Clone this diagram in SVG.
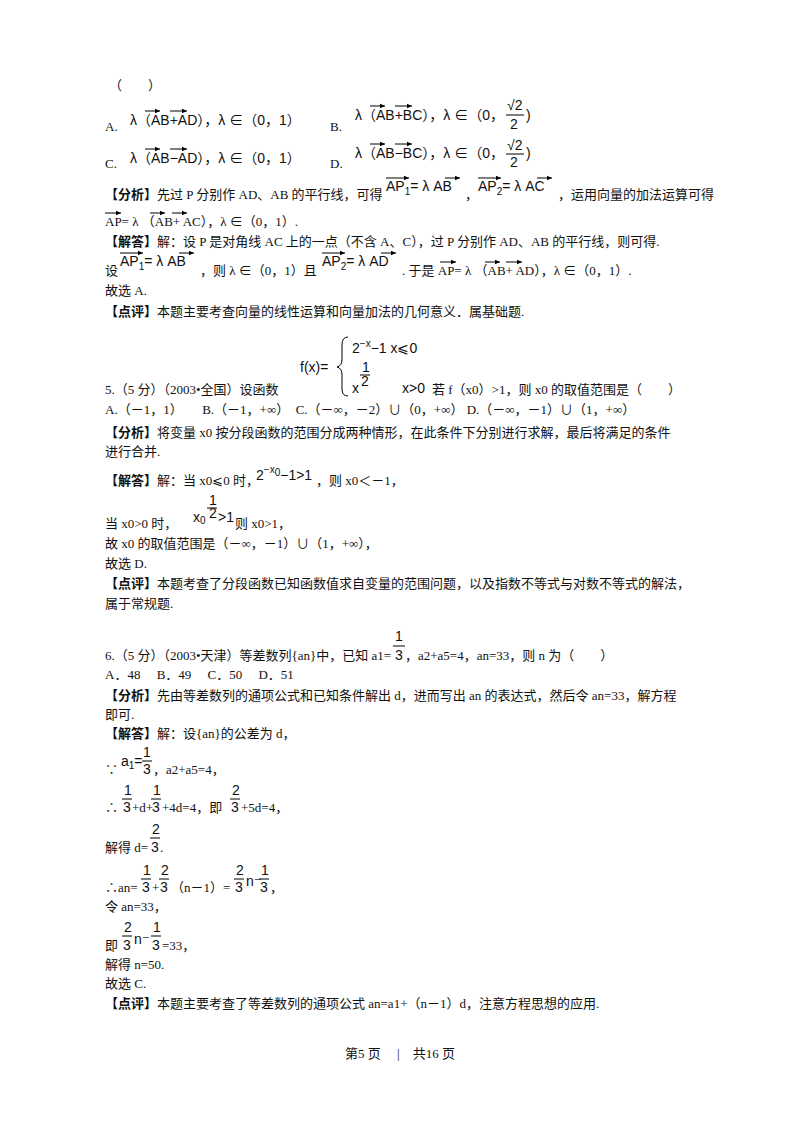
<svg xmlns="http://www.w3.org/2000/svg" width="800" height="1132" viewBox="0 0 800 1132">
<defs>
<marker id="ar" markerWidth="6" markerHeight="6" refX="5" refY="3" orient="auto" markerUnits="userSpaceOnUse"><path d="M0,0.8 L5,3 L0,5.2 Z" fill="#000"/></marker>
<style>
text{font-family:"Liberation Serif","Noto Sans CJK SC",serif;font-size:13px;fill:#111}
.m{font-family:"Liberation Sans","Noto Sans CJK SC",sans-serif;font-size:14px}
.s{font-size:10px}
.v{stroke:#000;stroke-width:1;marker-end:url(#ar)}
.f{stroke:#000;stroke-width:1}
.b{font-family:"Noto Sans CJK SC",sans-serif;font-weight:bold}
</style>
</defs>
<rect width="800" height="1132" fill="#fff"/>
<text x="109" y="90">（　　）</text>
<text x="105" y="131">A.</text>
<text class="m" x="130" y="125">λ（AB+AD），λ ∈（0，1）</text>
<line class="v" x1="145" y1="111" x2="160" y2="111"/><line class="v" x1="170" y1="111" x2="187" y2="111"/>
<text x="330" y="131">B.</text>
<text class="m" x="355" y="120">λ（AB+BC），λ ∈（0，</text>
<line class="v" x1="370" y1="106" x2="385" y2="106"/><line class="v" x1="395" y1="106" x2="412" y2="106"/>
<text class="m" x="507" y="110">√2</text><line class="f" x1="506" y1="115" x2="524" y2="115"/><text class="m" x="510" y="129">2</text><text class="m" x="526" y="120">)</text>
<text x="105" y="168">C.</text>
<text class="m" x="130" y="163">λ（AB−AD），λ ∈（0，1）</text>
<line class="v" x1="145" y1="149" x2="160" y2="149"/><line class="v" x1="170" y1="149" x2="187" y2="149"/>
<text x="330" y="168">D.</text>
<text class="m" x="355" y="158">λ（AB−BC），λ ∈（0，</text>
<line class="v" x1="370" y1="144" x2="385" y2="144"/><line class="v" x1="395" y1="144" x2="412" y2="144"/>
<text class="m" x="507" y="150">√2</text><line class="f" x1="506" y1="154" x2="524" y2="154"/><text class="m" x="510" y="167">2</text><text class="m" x="526" y="158">)</text>

<text x="105" y="199"><tspan class="b">【分析】</tspan>先过 P 分别作 AD、AB 的平行线，可得</text>
<text class="m" x="386" y="191">AP<tspan class="s" dy="4">1</tspan><tspan dy="-4">= λ AB</tspan></text>
<line class="v" x1="386" y1="178" x2="409" y2="178"/><line class="v" x1="445" y1="178" x2="460" y2="178"/>
<text x="465" y="199">，</text>
<text class="m" x="478" y="191">AP<tspan class="s" dy="4">2</tspan><tspan dy="-4">= λ AC</tspan></text>
<line class="v" x1="478" y1="178" x2="501" y2="178"/><line class="v" x1="537" y1="178" x2="552" y2="178"/>
<text x="558" y="199">，运用向量的加法运算可得</text>
<text x="105" y="226">AP= λ （AB+ AC），λ ∈（0，1）.</text>
<line class="v" x1="105" y1="213" x2="121" y2="213"/><line class="v" x1="150" y1="213" x2="165" y2="213"/><line class="v" x1="172" y1="213" x2="187" y2="213"/>
<text x="105" y="246"><tspan class="b">【解答】</tspan>解：设 P 是对角线 AC 上的一点（不含 A、C），过 P 分别作 AD、AB 的平行线，则可得.</text>
<text x="105" y="275">设</text>
<text class="m" x="120" y="266">AP<tspan class="s" dy="4">1</tspan><tspan dy="-4">= λ AB</tspan></text>
<line class="v" x1="120" y1="253" x2="143" y2="253"/><line class="v" x1="179" y1="253" x2="194" y2="253"/>
<text x="200" y="275">，则 λ ∈（0，1）且</text>
<text class="m" x="322" y="266">AP<tspan class="s" dy="4">2</tspan><tspan dy="-4">= λ AD</tspan></text>
<line class="v" x1="322" y1="253" x2="345" y2="253"/><line class="v" x1="381" y1="253" x2="396" y2="253"/>
<text x="402" y="275">. 于是 AP= λ （AB+ AD），λ ∈（0，1）.</text>
<line class="v" x1="440" y1="262" x2="456" y2="262"/><line class="v" x1="485" y1="262" x2="500" y2="262"/><line class="v" x1="506" y1="262" x2="522" y2="262"/>
<text x="105" y="295">故选 A.</text>
<text x="105" y="316"><tspan class="b">【点评】</tspan>本题主要考查向量的线性运算和向量加法的几何意义．属基础题.</text>

<text class="m" x="300" y="372">f(x)=</text>
<path d="M348,337 Q342,337 342,345 L342,359 Q342,366 337,367 Q342,368 342,375 L342,389 Q342,396 348,396" fill="none" stroke="#000"/>
<text class="m" x="352" y="353">2<tspan class="s" dy="-6">−x</tspan><tspan dy="6">−1  x⩽0</tspan></text>
<text class="m" x="362" y="372" font-size="11">1</text><line class="f" x1="360" y1="375" x2="370" y2="375"/>
<text class="m" x="352" y="393">x</text><text class="m" x="361" y="386" font-size="11">2</text>
<text class="m" x="402" y="393">x&gt;0</text>
<text x="105" y="394">5.（5 分）（2003•全国）设函数</text>
<text x="432" y="394">若 f（x0）&gt;1，则 x0 的取值范围是（　　）</text>
<text x="105" y="414">A.（－1，1）　　B.（－1，+∞）　C.（－∞，－2）∪（0，+∞）  D.（－∞，－1）∪（1，+∞）</text>
<text x="105" y="437"><tspan class="b">【分析】</tspan>将变量 x0 按分段函数的范围分成两种情形，在此条件下分别进行求解，最后将满足的条件</text>
<text x="105" y="456">进行合并.</text>
<text x="105" y="485"><tspan class="b">【解答】</tspan>解：当 x0⩽0 时，</text>
<text class="m" x="256" y="480">2<tspan class="s" dy="-7">−x</tspan><tspan class="s" dy="3">0</tspan><tspan dy="4">−1&gt;1</tspan></text>
<text x="316" y="485">，则 x0＜－1，</text>
<text x="105" y="528">当 x0&gt;0 时，</text>
<text class="m" x="193" y="522">x<tspan class="s" dy="2">0</tspan></text>
<text class="m" x="209" y="505" font-size="12">1</text><line class="f" x1="207" y1="508" x2="217" y2="508"/><text class="m" x="209" y="518" font-size="11">2</text>
<text class="m" x="218" y="522">&gt;1</text>
<text x="235" y="528">则 x0&gt;1，</text>
<text x="105" y="548">故 x0 的取值范围是（－∞，－1）∪（1，+∞），</text>
<text x="105" y="568">故选 D.</text>
<text x="105" y="588"><tspan class="b">【点评】</tspan>本题考查了分段函数已知函数值求自变量的范围问题，以及指数不等式与对数不等式的解法，</text>
<text x="105" y="608">属于常规题.</text>

<text class="m" x="395" y="641">1</text><line class="f" x1="393" y1="646" x2="405" y2="646"/>
<text x="105" y="660">6.（5 分）（2003•天津）等差数列{an}中，已知 a1=</text>
<text class="m" x="395" y="660">3</text>
<text x="405" y="660">，a2+a5=4，an=33，则 n 为（　　）</text>
<text x="105" y="679">A．48　 B．49　 C．50　 D．51</text>
<text x="105" y="700"><tspan class="b">【分析】</tspan>先由等差数列的通项公式和已知条件解出 d，进而写出 an 的表达式，然后令 an=33，解方程</text>
<text x="105" y="719">即可.</text>
<text x="105" y="738"><tspan class="b">【解答】</tspan>解：设{an}的公差为 d，</text>
<text x="105" y="774">∵</text>
<text class="m" x="121" y="766">a<tspan class="s" dy="3">1</tspan><tspan dy="-3">=</tspan></text>
<text class="m" x="143" y="757">1</text><line class="f" x1="142" y1="761" x2="152" y2="761"/>
<text class="m" x="143" y="774">3</text>
<text x="153" y="774">，a2+a5=4，</text>
<text class="m" x="124" y="795">1</text><line class="f" x1="122" y1="799" x2="132" y2="799"/>
<text class="m" x="153" y="795">1</text><line class="f" x1="151" y1="799" x2="161" y2="799"/>
<text class="m" x="232" y="795">2</text><line class="f" x1="230" y1="799" x2="240" y2="799"/>
<text x="105" y="812">∴</text>
<text class="m" x="123" y="812">3</text>
<text x="132" y="812">+d+</text>
<text class="m" x="152" y="812">3</text>
<text x="162" y="812">+4d=4，即</text>
<text class="m" x="231" y="812">3</text>
<text x="241" y="812">+5d=4，</text>
<text class="m" x="152" y="834">2</text><line class="f" x1="150" y1="838" x2="160" y2="838"/>
<text x="105" y="852">解得 d=</text>
<text class="m" x="151" y="852">3</text>
<text x="160" y="852">.</text>
<text class="m" x="143" y="875">1</text><line class="f" x1="141" y1="879" x2="151" y2="879"/>
<text class="m" x="161" y="875">2</text><line class="f" x1="159" y1="879" x2="169" y2="879"/>
<text class="m" x="236" y="875">2</text><line class="f" x1="234" y1="879" x2="244" y2="879"/>
<text class="m" x="261" y="875">1</text><line class="f" x1="259" y1="879" x2="269" y2="879"/>
<text x="105" y="892">∴an=</text>
<text class="m" x="142" y="892">3</text>
<text x="152" y="892">+</text>
<text class="m" x="160" y="892">3</text>
<text x="171" y="892">（n－1）=</text>
<text class="m" x="235" y="892">3</text>
<text class="m" x="246" y="886">n</text>
<text x="254" y="884">−</text>
<text class="m" x="260" y="892">3</text>
<text x="270" y="892">，</text>
<text x="105" y="911">令 an=33，</text>
<text class="m" x="124" y="932">2</text><line class="f" x1="122" y1="936" x2="132" y2="936"/>
<text class="m" x="153" y="932">1</text><line class="f" x1="151" y1="936" x2="161" y2="936"/>
<text x="105" y="950">即</text>
<text class="m" x="123" y="950">3</text>
<text class="m" x="134" y="944">n</text>
<text x="142" y="942">−</text>
<text class="m" x="152" y="950">3</text>
<text x="162" y="950">=33，</text>
<text x="105" y="969">解得 n=50.</text>
<text x="105" y="988">故选 C.</text>
<text x="105" y="1008"><tspan class="b">【点评】</tspan>本题主要考查了等差数列的通项公式 an=a1+（n－1）d，注意方程思想的应用.</text>
<text x="400" y="1058" text-anchor="middle">第5 页 　|　共16 页</text>
</svg>
